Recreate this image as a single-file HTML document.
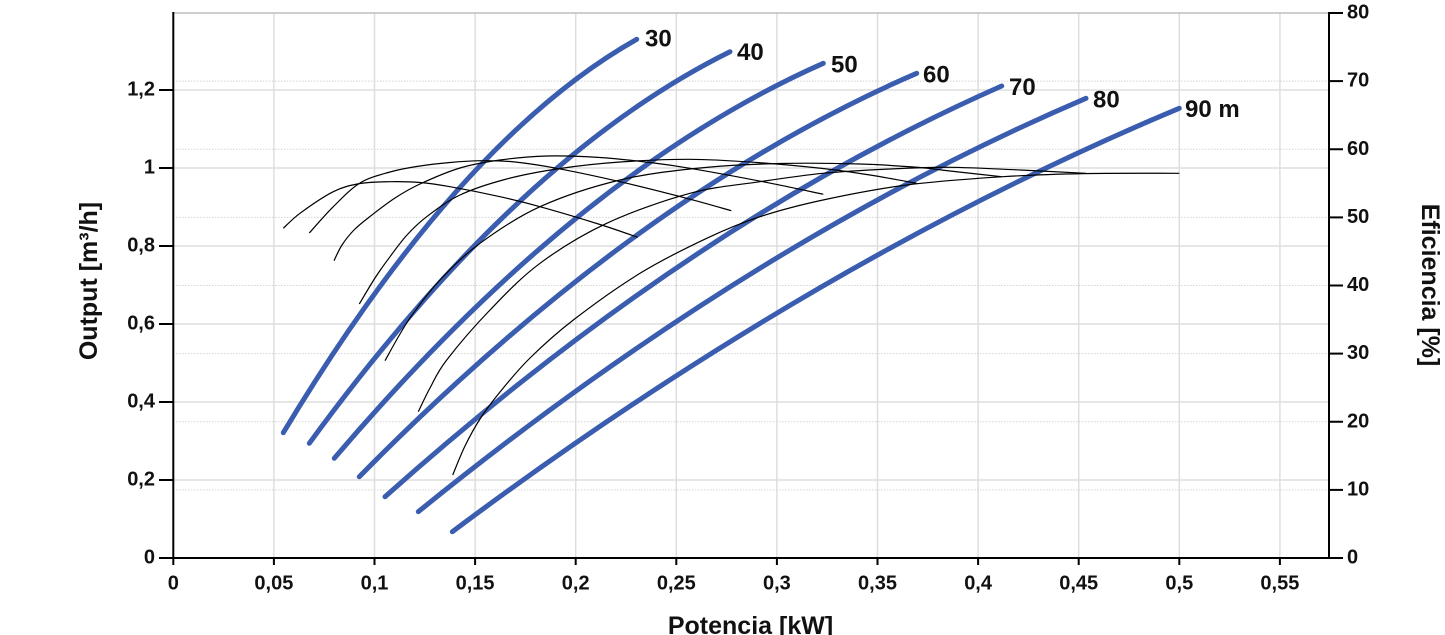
<!DOCTYPE html>
<html>
<head>
<meta charset="utf-8">
<style>
html,body{margin:0;padding:0;background:#fff;}
body{width:1445px;height:635px;overflow:hidden;}
svg{display:block;}
text{font-family:"Liberation Sans",Arial,sans-serif;font-weight:bold;fill:#111;}
.tk{font-size:20px;}
.cl{font-size:24px;}
.at{font-size:25px;}
</style>
</head>
<body>
<svg id="chart" width="1445" height="635" viewBox="0 0 1445 635">
  <!-- grid vertical -->
  <g stroke="#dedede" stroke-width="1.5">
    <line x1="273.9" y1="13" x2="273.9" y2="558"/>
    <line x1="374.5" y1="13" x2="374.5" y2="558"/>
    <line x1="475.1" y1="13" x2="475.1" y2="558"/>
    <line x1="575.7" y1="13" x2="575.7" y2="558"/>
    <line x1="676.3" y1="13" x2="676.3" y2="558"/>
    <line x1="776.9" y1="13" x2="776.9" y2="558"/>
    <line x1="877.5" y1="13" x2="877.5" y2="558"/>
    <line x1="978.1" y1="13" x2="978.1" y2="558"/>
    <line x1="1078.7" y1="13" x2="1078.7" y2="558"/>
    <line x1="1179.3" y1="13" x2="1179.3" y2="558"/>
    <line x1="1279.9" y1="13" x2="1279.9" y2="558"/>
  </g>
  <!-- grid horizontal solid (left axis) -->
  <g stroke="#dedede" stroke-width="1.5">
    <line x1="173" y1="480" x2="1329" y2="480"/>
    <line x1="173" y1="402" x2="1329" y2="402"/>
    <line x1="173" y1="324" x2="1329" y2="324"/>
    <line x1="173" y1="246" x2="1329" y2="246"/>
    <line x1="173" y1="168" x2="1329" y2="168"/>
    <line x1="173" y1="90" x2="1329" y2="90"/>
  </g>
  <!-- grid horizontal dotted (right axis) -->
  <g stroke="#d4d4d4" stroke-width="1" stroke-dasharray="1.5,1.5">
    <line x1="173" y1="489.9" x2="1329" y2="489.9"/>
    <line x1="173" y1="421.75" x2="1329" y2="421.75"/>
    <line x1="173" y1="353.6" x2="1329" y2="353.6"/>
    <line x1="173" y1="285.5" x2="1329" y2="285.5"/>
    <line x1="173" y1="217.4" x2="1329" y2="217.4"/>
    <line x1="173" y1="149.25" x2="1329" y2="149.25"/>
    <line x1="173" y1="81.1" x2="1329" y2="81.1"/>
  </g>
  <!-- top border -->
  <line x1="173" y1="13" x2="1329" y2="13" stroke="#bdbdbd" stroke-width="1.5"/>

  <!-- blue Q curves (quadratic fits) -->
  <g fill="none" stroke="#3a5daf" stroke-width="5" stroke-linecap="round" stroke-linejoin="round">
    <path d="M283.3,432.7 Q460,138.8 636.7,39.3"/>
    <path d="M309.3,443.3 Q519.65,155.4 730,51.7"/>
    <path d="M334.3,458.3 Q578.8,171.3 823.3,63.3"/>
    <path d="M359.3,476.7 Q638,193.7 916.7,73.3"/>
    <path d="M385,496.7 Q693.35,221.8 1001.7,86"/>
    <path d="M418.3,511.7 Q752.15,241 1086,98.3"/>
    <path d="M452.3,531.7 Q815.8,260.3 1179.3,108.3"/>
  </g>

  <!-- black efficiency curves -->
  <g fill="none" stroke="#000" stroke-width="1.2" stroke-linejoin="round">
    <polyline class="s" points="283.3,228.3 300,213.3 333.3,191.7 360,183.5 390,181.7 420,182.5 450,186.7 500,196.7 540,206.7 600,224.5 637.7,237.3"/>
    <polyline class="s" points="309.3,233 333.3,206.7 360,183 390,172 416.7,166.5 450,162.5 483,160.7 515,162 556.7,168.3 620,181.7 686.7,198.3 731.3,210.7"/>
    <polyline class="s" points="334,260.7 342,245 354,230 370,216.5 395,198 420,184 460,168 500,160 546.7,156 600,157.5 650,162.5 690,168.3 763,181.7 823.3,194.3"/>
    <polyline class="s" points="359.3,304 375,278 390,256.7 407,235 426.7,216.7 460,195 506.7,179 560,168.5 620,162 690,159.3 757,162.5 823,168.5 870,175 916.7,183.3"/>
    <polyline class="s" points="385,360.7 400,334 413.3,313.3 440,280 480,243.3 540,206.7 620,180 700,168 780,163.5 860,164 920,167.5 950,171 1001.7,176.7"/>
    <polyline class="s" points="418.3,411.7 430,388 446.7,360 490,310 540,263.3 606.7,223.3 690,193.3 760,181.7 823,173.3 890,169 950,167.3 1020,170 1086,173.3"/>
    <polyline class="s" points="452.7,475 465,446 480,419 500,392 530,358 573.3,320 640,273.3 706.7,238.3 760,216.7 823,200 906.7,185 1003,176.7 1083,173.6 1179.3,173.3"/>
  </g>

  <!-- axes -->
  <g stroke="#000" stroke-width="2">
    <line x1="173.3" y1="12" x2="173.3" y2="559"/>
    <line x1="172.3" y1="558" x2="1330" y2="558"/>
    <line x1="1329" y1="12" x2="1329" y2="559"/>
  </g>
  <!-- left ticks -->
  <g stroke="#000" stroke-width="2">
    <line x1="159" y1="558" x2="173" y2="558"/>
    <line x1="159" y1="480" x2="173" y2="480"/>
    <line x1="159" y1="402" x2="173" y2="402"/>
    <line x1="159" y1="324" x2="173" y2="324"/>
    <line x1="159" y1="246" x2="173" y2="246"/>
    <line x1="159" y1="168" x2="173" y2="168"/>
    <line x1="159" y1="90" x2="173" y2="90"/>
  </g>
  <!-- right ticks -->
  <g stroke="#000" stroke-width="2">
    <line x1="1329" y1="558" x2="1343" y2="558"/>
    <line x1="1329" y1="489.9" x2="1343" y2="489.9"/>
    <line x1="1329" y1="421.75" x2="1343" y2="421.75"/>
    <line x1="1329" y1="353.6" x2="1343" y2="353.6"/>
    <line x1="1329" y1="285.5" x2="1343" y2="285.5"/>
    <line x1="1329" y1="217.4" x2="1343" y2="217.4"/>
    <line x1="1329" y1="149.25" x2="1343" y2="149.25"/>
    <line x1="1329" y1="81.1" x2="1343" y2="81.1"/>
    <line x1="1329" y1="13" x2="1343" y2="13"/>
  </g>
  <!-- bottom ticks -->
  <g stroke="#000" stroke-width="2">
    <line x1="173.3" y1="558" x2="173.3" y2="565"/>
    <line x1="273.9" y1="558" x2="273.9" y2="565"/>
    <line x1="374.5" y1="558" x2="374.5" y2="565"/>
    <line x1="475.1" y1="558" x2="475.1" y2="565"/>
    <line x1="575.7" y1="558" x2="575.7" y2="565"/>
    <line x1="676.3" y1="558" x2="676.3" y2="565"/>
    <line x1="776.9" y1="558" x2="776.9" y2="565"/>
    <line x1="877.5" y1="558" x2="877.5" y2="565"/>
    <line x1="978.1" y1="558" x2="978.1" y2="565"/>
    <line x1="1078.7" y1="558" x2="1078.7" y2="565"/>
    <line x1="1179.3" y1="558" x2="1179.3" y2="565"/>
    <line x1="1279.9" y1="558" x2="1279.9" y2="565"/>
  </g>

  <!-- left tick labels -->
  <g class="tk" text-anchor="end">
    <text x="155" y="563.5">0</text>
    <text x="155" y="485.5">0,2</text>
    <text x="155" y="407.5">0,4</text>
    <text x="155" y="329.5">0,6</text>
    <text x="155" y="251.5">0,8</text>
    <text x="155" y="173.5">1</text>
    <text x="155" y="95.5">1,2</text>
  </g>
  <!-- right tick labels -->
  <g class="tk" text-anchor="start">
    <text x="1347" y="563.5">0</text>
    <text x="1347" y="495.4">10</text>
    <text x="1347" y="427.3">20</text>
    <text x="1347" y="359.1">30</text>
    <text x="1347" y="291">40</text>
    <text x="1347" y="222.9">50</text>
    <text x="1347" y="154.8">60</text>
    <text x="1347" y="86.6">70</text>
    <text x="1347" y="18.5">80</text>
  </g>
  <!-- bottom tick labels -->
  <g class="tk" text-anchor="middle">
    <text x="173.3" y="589.5">0</text>
    <text x="273.9" y="589.5">0,05</text>
    <text x="374.5" y="589.5">0,1</text>
    <text x="475.1" y="589.5">0,15</text>
    <text x="575.7" y="589.5">0,2</text>
    <text x="676.3" y="589.5">0,25</text>
    <text x="776.9" y="589.5">0,3</text>
    <text x="877.5" y="589.5">0,35</text>
    <text x="978.1" y="589.5">0,4</text>
    <text x="1078.7" y="589.5">0,45</text>
    <text x="1179.3" y="589.5">0,5</text>
    <text x="1279.9" y="589.5">0,55</text>
  </g>

  <!-- curve labels -->
  <g class="cl">
    <text x="645" y="46.7">30</text>
    <text x="737" y="60">40</text>
    <text x="831" y="72.3">50</text>
    <text x="923" y="82.7">60</text>
    <text x="1009" y="95">70</text>
    <text x="1093" y="107.3">80</text>
    <text x="1185" y="117">90 m</text>
  </g>

  <!-- axis titles -->
  <text class="at" text-anchor="middle" transform="translate(97,281) rotate(-90)">Output [m³/h]</text>
  <text class="at" text-anchor="middle" transform="translate(1422,285) rotate(90)">Eficiencia [%]</text>
  <text class="at" text-anchor="middle" x="750.5" y="634">Potencia [kW]</text>
</svg>
<script>
(function(){
  var svg=document.getElementById('chart');
  var NS=svg.namespaceURI;
  var pls=svg.querySelectorAll('polyline.s');
  for(var k=0;k<pls.length;k++){
    var pl=pls[k];
    var nums=pl.getAttribute('points').trim().split(/[\s,]+/).map(Number);
    var p=[];
    for(var i=0;i<nums.length;i+=2)p.push([nums[i],nums[i+1]]);
    var d='M'+p[0][0]+','+p[0][1];
    for(var i=0;i<p.length-1;i++){
      var p0=p[i-1]||p[i],p1=p[i],p2=p[i+1],p3=p[i+2]||p[i+1];
      var c1x=p1[0]+(p2[0]-p0[0])/6,c1y=p1[1]+(p2[1]-p0[1])/6;
      var c2x=p2[0]-(p3[0]-p1[0])/6,c2y=p2[1]-(p3[1]-p1[1])/6;
      d+=' C'+c1x.toFixed(2)+','+c1y.toFixed(2)+' '+c2x.toFixed(2)+','+c2y.toFixed(2)+' '+p2[0]+','+p2[1];
    }
    var path=document.createElementNS(NS,'path');
    path.setAttribute('d',d);
    pl.parentNode.replaceChild(path,pl);
  }
})();
</script>
</body>
</html>
